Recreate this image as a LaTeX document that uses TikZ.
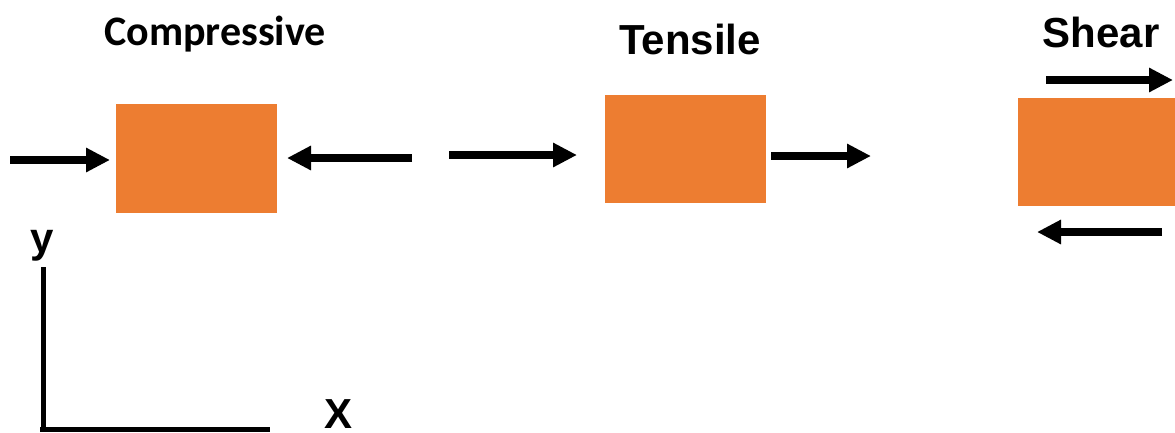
\documentclass[tikz,border=0pt]{standalone}
\usepackage{fontspec}
\setmainfont{Liberation Sans}
\newfontfamily\calib{Carlito}
\usetikzlibrary{arrows.meta}
\definecolor{boxorange}{HTML}{ED7D31}
\tikzset{
  block/.style={fill=boxorange, draw=none, inner sep=0pt},
  force/.style={line width=7.5pt, -{Triangle[length=24pt,width=23pt]}},
  axisline/.style={line width=5pt},
  lbl/.style={anchor=base, inner sep=0pt, font=\fontsize{42}{46}\selectfont\bfseries},
}
\begin{document}
\begin{tikzpicture}[x=1pt,y=-1pt]
\useasboundingbox (0,0) rectangle (1175,432);
% boxes
\node[block, minimum width=161pt, minimum height=109pt] (c) at (196.5,158.5) {};
\node[block, minimum width=161pt, minimum height=108pt] (t) at (685.5,149) {};
\node[block, minimum width=157pt, minimum height=108pt] (s) at (1096.5,152) {};
% labels
\node[lbl, font=\fontsize{42}{46}\selectfont\calib\bfseries] (lc) at (215,45) {Compressive};
\node[lbl] (lt) at (690,54) {Tensile};
\node[lbl] (ls) at (1101,47) {Shear};
\node[lbl] (ly) at (42,252) {y};
\node[lbl] (lx) at (339,428) {X};
% compressive forces
\coordinate (c1) at (10,160);
\coordinate (c2) at (110,160);
\coordinate (c3) at (412,158);
\coordinate (c4) at (287,158);
\draw[force] (c1) -- (c2);
\draw[force] (c3) -- (c4);
% tensile forces
\coordinate (t1) at (449,155);
\coordinate (t2) at (577,155);
\coordinate (t3) at (771,156);
\coordinate (t4) at (871,156);
\draw[force] (t1) -- (t2);
\draw[force] (t3) -- (t4);
% shear forces
\coordinate (s1) at (1046,80);
\coordinate (s2) at (1173,80);
\coordinate (s3) at (1162,232);
\coordinate (s4) at (1037,232);
\draw[force] (s1) -- (s2);
\draw[force] (s3) -- (s4);
% axes
\coordinate (o) at (43,431.5);
\coordinate (ytop) at (43,267);
\coordinate (xstart) at (40,429);
\coordinate (xend) at (270,429);
\draw[axisline] (ytop) -- (o);
\draw[axisline] (xstart) -- (xend);
\end{tikzpicture}
\end{document}
